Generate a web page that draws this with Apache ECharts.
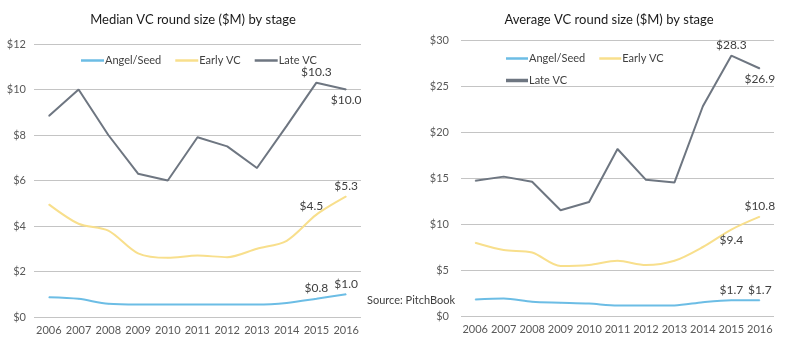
<!DOCTYPE html>
<html><head><meta charset="utf-8">
<script src="https://cdn.jsdelivr.net/npm/echarts@6/dist/echarts.min.js"></script>
<style>html,body{margin:0;padding:0;background:#fff}#c{width:788px;height:341px}</style>
</head><body><div id="c"></div>
<script>
const years = ['2006','2007','2008','2009','2010','2011','2012','2013','2014','2015','2016'];
const medianAngel = [0.87,0.8,0.58,0.55,0.55,0.55,0.55,0.55,0.62,0.8,1.0];
const medianEarly = [4.95,4.1,3.8,2.8,2.6,2.7,2.63,3.0,3.35,4.5,5.3];
const medianLate  = [8.83,10.0,8.0,6.3,6.0,7.9,7.5,6.55,8.4,10.3,10.0];
const avgAngel = [1.8,1.9,1.55,1.45,1.35,1.15,1.15,1.15,1.5,1.7,1.7];
const avgEarly = [7.97,7.17,6.9,5.43,5.54,6.0,5.54,6.0,7.5,9.4,10.8];
const avgLate  = [14.7,15.15,14.6,11.5,12.4,18.15,14.8,14.5,22.8,28.3,26.9];
const medianTicks = ['$0','$2','$4','$6','$8','$10','$12'];
const avgTicks = ['$0','$5','$10','$15','$20','$25','$30'];

const C_ANGEL = '#6cbde5', C_EARLY = '#f8df8c', C_LATE = '#6e7681';
const FONT = 'Lato';

function withLabels(arr, pos, offs) {
  return arr.map((v, i) => {
    if (i >= arr.length - 2) {
      const k = i - (arr.length - 2);
      return { value: v, label: { show: true, position: pos[k], offset: (offs && offs[k]) || [0,0], distance: 4, formatter: '$' + v.toFixed(1), color: '#404040', fontSize: 12, fontFamily: FONT } };
    }
    return v;
  });
}
function line(name, color, data, xi, smooth, width) {
  return { name, type: 'line', xAxisIndex: xi, yAxisIndex: xi, data, smooth: smooth, showSymbol: true, symbol: 'circle', symbolSize: 1,
    lineStyle: { color, width: width }, itemStyle: { color, borderWidth: 0 }, z: 3, animation: false };
}
const axisLabel = { color: '#595959', fontSize: 11, fontFamily: FONT };
const chart = echarts.init(document.getElementById('c'));
chart.setOption({
  backgroundColor: '#fff',
  animation: false,
  title: [
    { text: 'Median VC round size ($M) by stage', left: 188, top: 8, textAlign: 'center', textStyle: { fontFamily: FONT, fontSize: 13, fontWeight: 'normal', color: '#1a1a1a' } },
    { text: 'Average VC round size ($M) by stage', left: 604, top: 8, textAlign: 'center', textStyle: { fontFamily: FONT, fontSize: 13, fontWeight: 'normal', color: '#1a1a1a' } }
  ],
  legend: [
    { data: ['Angel/Seed','Early VC','Late VC'], left: 76, top: 50, icon: 'rect', itemWidth: 23, itemHeight: 2.5, itemGap: 14,
      textStyle: { color: '#404040', fontSize: 11, fontFamily: FONT, padding: [0,0,0,-4] } },
    { data: ['Angel/Seed','Early VC'], left: 501, top: 48, icon: 'rect', itemWidth: 22, itemHeight: 2.5, itemGap: 14,
      textStyle: { color: '#404040', fontSize: 11, fontFamily: FONT, padding: [0,0,0,-4] } },
    { data: ['Late VC'], left: 501, top: 70, icon: 'rect', itemWidth: 22, itemHeight: 3.5, itemGap: 14,
      textStyle: { color: '#404040', fontSize: 11, fontFamily: FONT, padding: [0,0,0,-4] } }
  ],
  grid: [
    { left: 34, right: 427, top: 44, bottom: 24 },
    { left: 461, right: 14, top: 40, bottom: 25 }
  ],
  xAxis: [0,1].map(i => ({ type: 'category', gridIndex: i, data: years, boundaryGap: true,
    axisLine: { show: false }, axisTick: { show: false }, axisLabel: Object.assign({ margin: 8, interval: 0 }, axisLabel) })),
  yAxis: [
    { type: 'value', gridIndex: 0, min: 0, max: 12, interval: 2, axisLine: { show: false }, axisTick: { show: false },
      splitLine: { lineStyle: { color: '#c4c4c4', width: 1 } },
      axisLabel: Object.assign({ margin: 8, formatter: v => medianTicks[v / 2] }, axisLabel) },
    { type: 'value', gridIndex: 1, min: 0, max: 30, interval: 5, axisLine: { show: false }, axisTick: { show: false },
      splitLine: { lineStyle: { color: '#c4c4c4', width: 1 } },
      axisLabel: Object.assign({ margin: 12, formatter: v => avgTicks[v / 5] }, axisLabel) }
  ],
  series: [
    line('Angel/Seed', C_ANGEL, withLabels(medianAngel, ['top','top']), 0, 0.3, 2),
    line('Early VC', C_EARLY, withLabels(medianEarly, ['top','top'], [[-5, 2],[0,0]]), 0, 0.3, 2),
    line('Late VC', C_LATE, withLabels(medianLate, ['top','bottom']), 0, false, 2),
    line('Angel/Seed', C_ANGEL, withLabels(avgAngel, ['top','top']), 1, 0.3, 2),
    line('Early VC', C_EARLY, withLabels(avgEarly, ['bottom','top']), 1, 0.3, 2),
    line('Late VC', C_LATE, withLabels(avgLate, ['top','bottom']), 1, false, 2)
  ],
  graphic: [
    { type: 'text', left: 367, top: 295, style: { text: 'Source: PitchBook', fill: '#404040', fontSize: 11, fontFamily: FONT } }
  ]
});
</script></body></html>
